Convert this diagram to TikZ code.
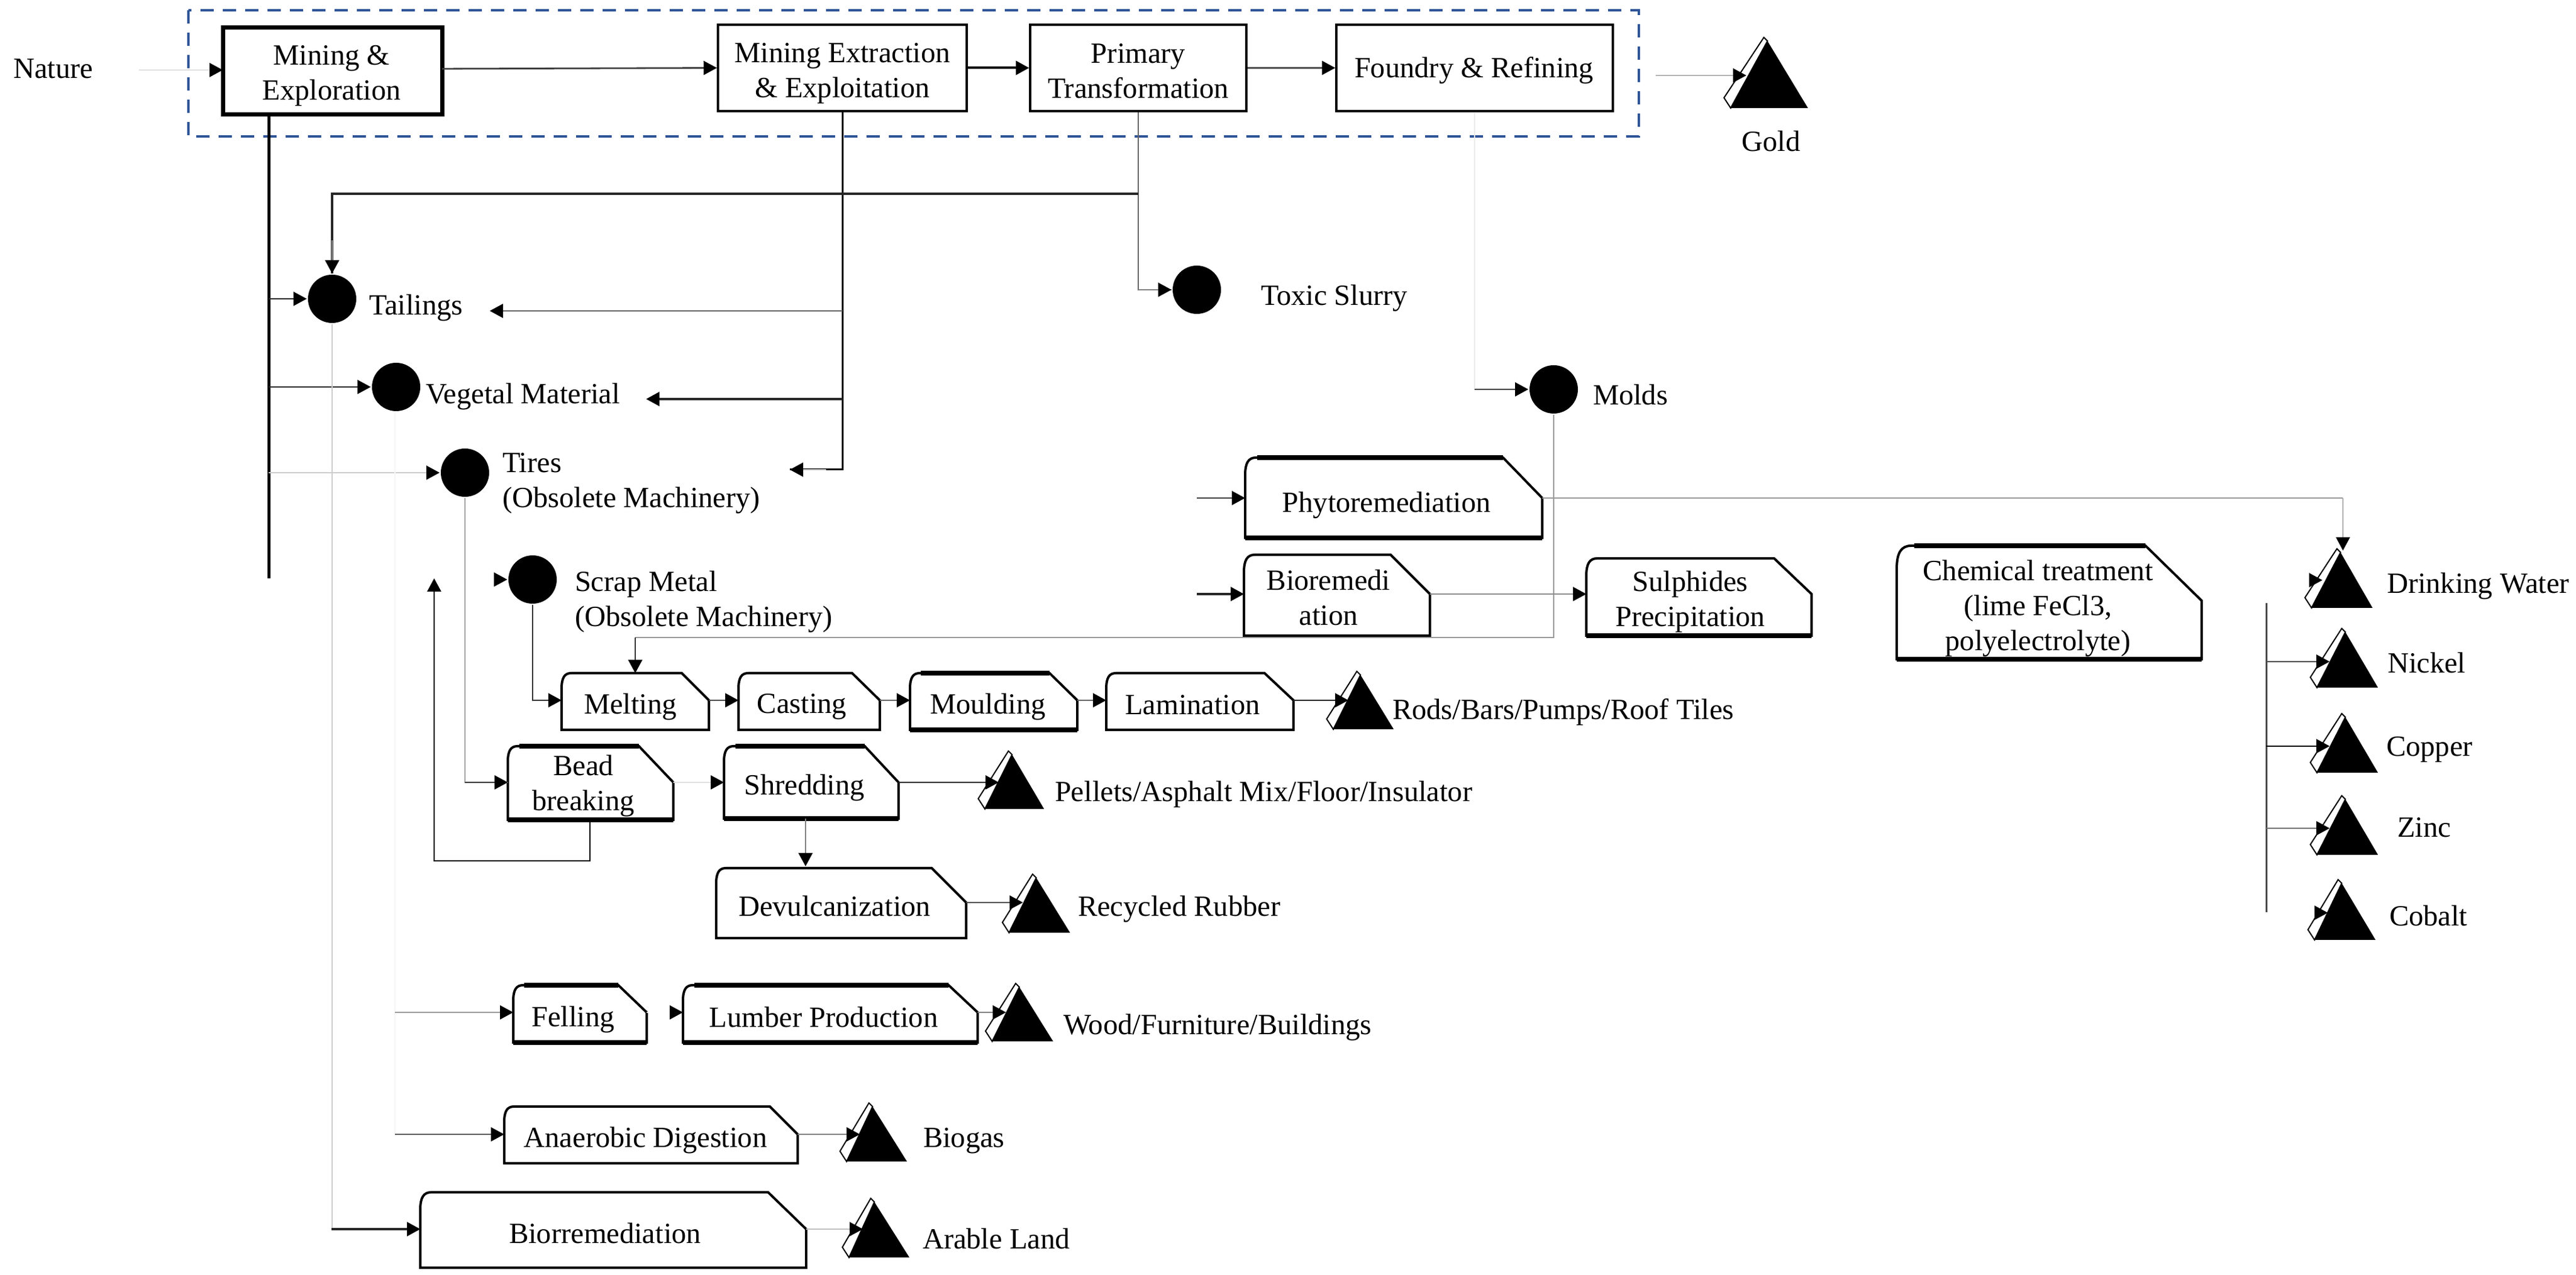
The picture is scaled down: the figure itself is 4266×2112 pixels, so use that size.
\documentclass[tikz,border=0pt]{standalone}
\usepackage{fontspec}
\setmainfont{Liberation Serif}
\usetikzlibrary{arrows.meta}
\definecolor{dashblue}{HTML}{2F5597}
\tikzset{
  txt/.style={font=\fontsize{4.85}{5.8}\selectfont,inner sep=0pt,align=center,text=black},
  ltxt/.style={txt,anchor=west,align=left},
  main/.style={draw=black,line width=0.35pt,fill=white,minimum width=#1,inner sep=0pt},
  dot/.style={circle,fill=black,draw=none,minimum size=8pt,inner sep=0pt},
  hook/.style={inner sep=0pt,outer sep=0pt,draw=none},
  chamf/.style={draw=black,line width=0.4pt,fill=white},
  heavy/.style={draw=black,line width=0.75pt},
  arr/.style={line width=#1,-{Triangle[length=2.2pt,width=2.3pt,color=black,fill=black]}},
  arr/.default=0.28pt,
  lin/.style={line width=#1},
  lin/.default=0.28pt,
}
% \cbox{name}{x1}{y1}{x2}{y2}{chamfer start x}{chamfer end y}{corner}
\newcommand{\cbox}[8]{%
  \path[chamf] (#2,#5) -- (#4,#5) -- (#4,#7) -- (#6,#3) -- ({#2+#8},#3)
     .. controls ({#2+0.3*#8},#3) and (#2,{#3+0.5*#8}) .. (#2,{#3+1.6*#8}) -- cycle;
  \node[hook,minimum width={(#4-#2)*0.1pt},minimum height={(#5-#3)*0.1pt}] (#1) at ({(#2+#4)/2},{(#3+#5)/2}) {};
  \coordinate (#1-in) at (#2,#7);
  \coordinate (#1-out) at (#4,#7);
}
% heavier edge of a box: \hedge{x1}{x2}{y}
\newcommand{\hedge}[3]{\path[heavy] (#1,#3) -- (#2,#3);}
% \tri{name}{x1}{x2}{apex}{top}{bottom}
\newcommand{\tri}[6]{%
  \path[draw=black,line width=0.2pt,fill=white] ({#4-6},{#5-6}) -- (#4,#5) -- (#2,#6) -- ({#2-11},{#6-17}) -- cycle;
  \path[fill=black] (#2,#6) -- (#4,#5) -- (#3,#6) -- cycle;
  \node[hook,minimum size=0pt] (#1) at (#4,{(#5+#6)/2}) {};
}
\begin{document}
\begin{tikzpicture}[x=0.1pt,y=-0.1pt]
\useasboundingbox[fill=white] (0,0) rectangle (4266,2112);

% process frame
\draw[dashblue,line width=0.45pt,dash pattern=on 2.2pt off 1.5pt] (312,17) rectangle (2714,226);

% main boxes
\node[draw=black,line width=0.7pt,fill=white,inner sep=0pt,minimum width=36.3pt,minimum height=14.4pt] (mining) at (550.5,118) {};
\node[main=41.2pt,minimum height=14.3pt] (extract) at (1395,112.5) {};
\node[main=35.8pt,minimum height=14.3pt] (primary) at (1885,112.5) {};
\node[main=45.8pt,minimum height=14.3pt] (foundry) at (2442,112.5) {};

\node[txt] (tnature) at (88,114) {Nature};
\node[txt] (tmining) at (549,126) {Mining \&\\Exploration};
\node[txt] (textract) at (1395,122) {Mining Extraction\\\& Exploitation};
\node[txt] (tprimary) at (1885,118) {Primary\\Transformation};
\node[txt] (tfoundry) at (2441,117) {Foundry \& Refining};

% waste dots
\node[dot] (tail) at (550,495) {};
\node[dot] (veg) at (656,641) {};
\node[dot] (tires) at (770,783) {};
\node[dot] (scrap) at (882,960) {};
\node[dot] (toxic) at (1982,480) {};
\node[dot] (molds) at (2573,645) {};

\node[ltxt] (ttail) at (609,510) {Tailings};
\node[ltxt] (tveg) at (703,657) {Vegetal Material};
\node[ltxt] (ttires) at (830,801) {Tires\\(Obsolete Machinery)};
\node[ltxt] (tscrap) at (950,997) {Scrap Metal\\(Obsolete Machinery)};
\node[ltxt] (ttoxic) at (2086,494) {Toxic Slurry};
\node[ltxt] (tmolds) at (2636,654) {Molds};

% treatment boxes
\cbox{melting}{930}{1115}{1174}{1209}{1129}{1160}{16}
\cbox{casting}{1223}{1115}{1457}{1209}{1411}{1160}{16}
\cbox{moulding}{1507}{1115}{1784}{1209}{1738}{1160}{16}
\cbox{lamination}{1832}{1115}{2142}{1209}{2094}{1160}{16}
\cbox{bead}{841}{1236}{1115}{1358}{1058}{1296}{16}
\cbox{shred}{1199}{1236}{1488}{1356}{1432}{1296}{16}
\cbox{devul}{1186}{1438}{1600}{1554}{1543}{1495}{16}
\cbox{felling}{850}{1632}{1071}{1727}{1024}{1677}{16}
\cbox{lumber}{1131}{1632}{1619}{1727}{1571}{1677}{16}
\cbox{anaer}{835}{1833}{1321}{1927}{1275}{1879}{16}
\cbox{biorr}{696}{1975}{1335}{2100}{1272}{2036}{18}
\cbox{phyto}{2062}{758}{2554}{891}{2489}{825}{18}
\cbox{biorem}{2060}{919}{2368}{1053}{2303}{984}{18}
\cbox{sulph}{2627}{925}{3000}{1053}{2938}{984}{18}
\cbox{chem}{3141}{904}{3646}{1092}{3553}{995}{24}
\hedge{1525}{1738}{1115}\hedge{1507}{1784}{1209}
\hedge{860}{1058}{1236}\hedge{841}{1115}{1358}
\hedge{1218}{1432}{1236}\hedge{1199}{1488}{1356}
\hedge{868}{1024}{1632}\hedge{850}{1071}{1727}
\hedge{1150}{1571}{1632}\hedge{1131}{1619}{1727}
\hedge{2082}{2489}{758}\hedge{2062}{2554}{891}
\hedge{2627}{3000}{1053}
\hedge{3170}{3553}{904}\hedge{3141}{3646}{1092}

\node[txt] (tmelting) at (1044,1171) {Melting};
\node[txt] (tcasting) at (1328,1171) {Casting};
\node[txt] (tmoulding) at (1636,1171) {Moulding};
\node[txt] (tlamination) at (1975,1168) {Lamination};
\node[txt] (tbead) at (966,1302) {Bead\\breaking};
\node[txt] (tshred) at (1332,1305) {Shredding};
\node[txt] (tdevul) at (1382,1501) {Devulcanization};
\node[txt] (tfelling) at (949,1689) {Felling};
\node[txt] (tlumber) at (1364,1685) {Lumber Production};
\node[txt] (tanaer) at (1069,1889) {Anaerobic Digestion};
\node[txt] (tbiorr) at (1002,2043) {Biorremediation};
\node[txt] (tphyto) at (2296,837) {Phytoremediation};
\node[txt] (tbiorem) at (2200,990) {Bioremedi\\ation};
\node[txt] (tsulph) at (2799,997) {Sulphides\\Precipitation};
\node[txt] (tchem) at (3375,1008) {Chemical treatment\\(lime FeCl3,\\polyelectrolyte)};

% product triangles
\tri{gold}{2866}{2994}{2927}{68}{179}
\tri{rods}{2208}{2308}{2253}{1118}{1208}
\tri{pellets}{1631}{1729}{1676}{1250}{1340}
\tri{rubber}{1671}{1772}{1716}{1454}{1545}
\tri{wood}{1643}{1744}{1688}{1635}{1725}
\tri{biogas}{1402}{1502}{1445}{1833}{1924}
\tri{arable}{1406}{1506}{1448}{1991}{2083}
\tri{water}{3828}{3929}{3876}{915}{1007}
\tri{nickel}{3837}{3938}{3884}{1047}{1139}
\tri{copper}{3837}{3938}{3884}{1188}{1280}
\tri{zinc}{3837}{3938}{3884}{1324}{1416}
\tri{cobalt}{3833}{3934}{3878}{1463}{1557}

\node[txt] (tgold) at (2933,234) {Gold};
\node[ltxt] (trods) at (2304,1180) {Rods/Bars/Pumps/Roof Tiles};
\node[ltxt] (tpellets) at (1745,1316) {Pellets/Asphalt Mix/Floor/Insulator};
\node[ltxt] (trubber) at (1783,1506) {Recycled Rubber};
\node[ltxt] (twood) at (1759,1702) {Wood/Furniture/Buildings};
\node[ltxt] (tbiogas) at (1527,1890) {Biogas};
\node[ltxt] (tarable) at (1526,2052) {Arable Land};
\node[ltxt] (twater) at (3951,971) {Drinking Water};
\node[ltxt] (tnickel) at (3952,1098) {Nickel};
\node[ltxt] (tcopper) at (3950,1242) {Copper};
\node[ltxt] (tzinc) at (3968,1371) {Zinc};
\node[ltxt] (tcobalt) at (3955,1517) {Cobalt};

% named free ends
\coordinate (nstart) at (230,116);
\coordinate (miningin) at (369,116);
\coordinate (miningout) at (732,114);
\coordinate (goldstart) at (2742,125);
\coordinate (goldtip) at (2892,125);
\coordinate (mv) at (445,190);
\coordinate (mvend) at (445,958);
\coordinate (tj) at (1885,321);
\coordinate (ex1) at (1395,515);
\coordinate (extail) at (811,515);
\coordinate (ex2) at (1395,661);
\coordinate (exveg) at (1070,661);
\coordinate (exmach) at (1308,778);
\coordinate (vl1) at (654,680);
\coordinate (scrapstart) at (818,960);
\coordinate (loopup) at (719,958);
\coordinate (loopa) at (977,1426);
\coordinate (loopb) at (719,1426);
\coordinate (mj) at (1052,1056);
\coordinate (mtop) at (1052,1115);
\coordinate (rodstip) at (2233,1160);
\coordinate (pelletstip) at (1654,1296);
\coordinate (rubbertip) at (1694,1495);
\coordinate (woodtip) at (1666,1677);
\coordinate (biogastip) at (1424,1879);
\coordinate (arabletip) at (1429,2036);
\coordinate (ph0) at (1982,825);
\coordinate (bi0) at (1982,984);
\coordinate (watercorner) at (3880,825);
\coordinate (watertip) at (3880,912);
\coordinate (feed1) at (654,1677);
\coordinate (feed2) at (654,1879);
\coordinate (feed3) at (549,2036);
\coordinate (rv1) at (3753,999);
\coordinate (rv2) at (3753,1511);
\coordinate (rvw) at (3753,961);
\coordinate (tipw) at (3846,961);
\coordinate (rvn) at (3753,1096);
\coordinate (tipn) at (3858,1096);
\coordinate (rvc) at (3753,1236);
\coordinate (tipc) at (3858,1236);
\coordinate (rvz) at (3753,1372);
\coordinate (tipz) at (3858,1372);
\coordinate (rvo) at (3753,1512);
\coordinate (tipo) at (3855,1512);

% top row connectors
\draw[arr,black!12] (nstart) -- (miningin);
\draw[arr,black!75] (miningout) -- (extract.west);
\draw[arr=0.4pt,black] (extract.east) -- (primary.west);
\draw[arr,black!70] (primary.east) -- (foundry.west);
\draw[arr,black!30] (goldstart) -- (goldtip);

% waste branches
\draw[lin=0.5pt,black] (mv) -- (mvend);
\draw[arr,black!85] (mv |- tail.west) -- (tail.west);
\draw[arr,black!85] (mv |- veg.west) -- (veg.west);
\draw[arr,black!20] (mv |- tires.west) -- (tires.west);
\draw[lin=0.3pt,black] (extract.south) |- (exmach);
\draw[arr,black!25] (exmach) ++(60,0) -- (exmach);
\draw[arr,black!60] (ex1) -- (extail);
\draw[arr=0.35pt,black!85] (ex2) -- (exveg);
\draw[lin,black!60] (primary.south) |- (toxic.west);
\draw[arr,black!50] (primary.south |- toxic.west) -- (toxic.west);
\draw[lin=0.35pt,black!85] (tj) -| (tail.north);
\draw[arr,black!40] (tail.north) ++(0,-55) -- (tail.north);
\draw[lin=0.2pt,black!8] (foundry.south) |- (molds.west);
\draw[arr,black!75] (foundry.south |- molds.west) -- (molds.west);

% tires, bead loop
\draw[lin,black!35] (tires.south) |- (bead-in);
\draw[arr,black!80] (tires.south |- bead-in) -- (bead-in);
\draw[arr=0.25pt,black] (bead.south -| loopa) -- (loopa) -- (loopb) -- (loopup);
\draw[arr,black!12] (bead-out) -- (shred-in);
\draw[arr,black!85] (shred-out) -- (pelletstip);
\draw[arr,black!50] (shred.south -| devul.north) ++(-59,0) -- ++(0,79);
\draw[arr,black!70] (devul-out) -- (rubbertip);

% scrap, metal line
\draw[arr,white] (scrapstart) -- (scrap.west);
\draw[arr,black!80] (scrap.south) |- (melting-in);
\draw[lin,black!40] (molds.south) |- (mj);
\draw[arr,black!80] (mj) -- (mtop);
\draw[arr,black!70] (melting-out) -- (casting-in);
\draw[arr,black!60] (casting-out) -- (moulding-in);
\draw[arr,black!60] (moulding-out) -- (lamination-in);
\draw[arr,black!85] (lamination-out) -- (rodstip);

% wood, biogas, land
\draw[lin=0.2pt,black!20] (tail.south) |- (feed3);
\draw[lin=0.2pt,black!4] (veg.south -| vl1) -- (feed2);
\draw[arr,black!40] (feed1) -- (felling-in);
\draw[arr,white] (felling-out) -- (lumber-in);
\draw[arr,black!50] (lumber-out) -- (woodtip);
\draw[arr,black!65] (feed2) -- (anaer-in);
\draw[arr,black!50] (anaer-out) -- (biogastip);
\draw[arr=0.35pt,black!85] (feed3) -- (biorr-in);
\draw[arr,black!25] (biorr-out) -- (arabletip);

% water treatment
\draw[arr,black!75] (ph0) -- (phyto-in);
\draw[arr=0.35pt,black!85] (bi0) -- (biorem-in);
\draw[arr,black!45] (biorem-out) -- (sulph-in);
\draw[lin,black!40] (phyto-out) -- (watercorner);
\draw[arr=0.2pt,black!30] (watercorner) -- (watertip);

% metals rail
\draw[lin=0.3pt,black!70] (rv1) -- (rv2);
\draw[arr,white] (rvw) -- (tipw);
\draw[arr,black!70] (rvn) -- (tipn);
\draw[arr,black] (rvc) -- (tipc);
\draw[arr,black!55] (rvz) -- (tipz);
\draw[arr,white] (rvo) -- (tipo);
\end{tikzpicture}
\end{document}
